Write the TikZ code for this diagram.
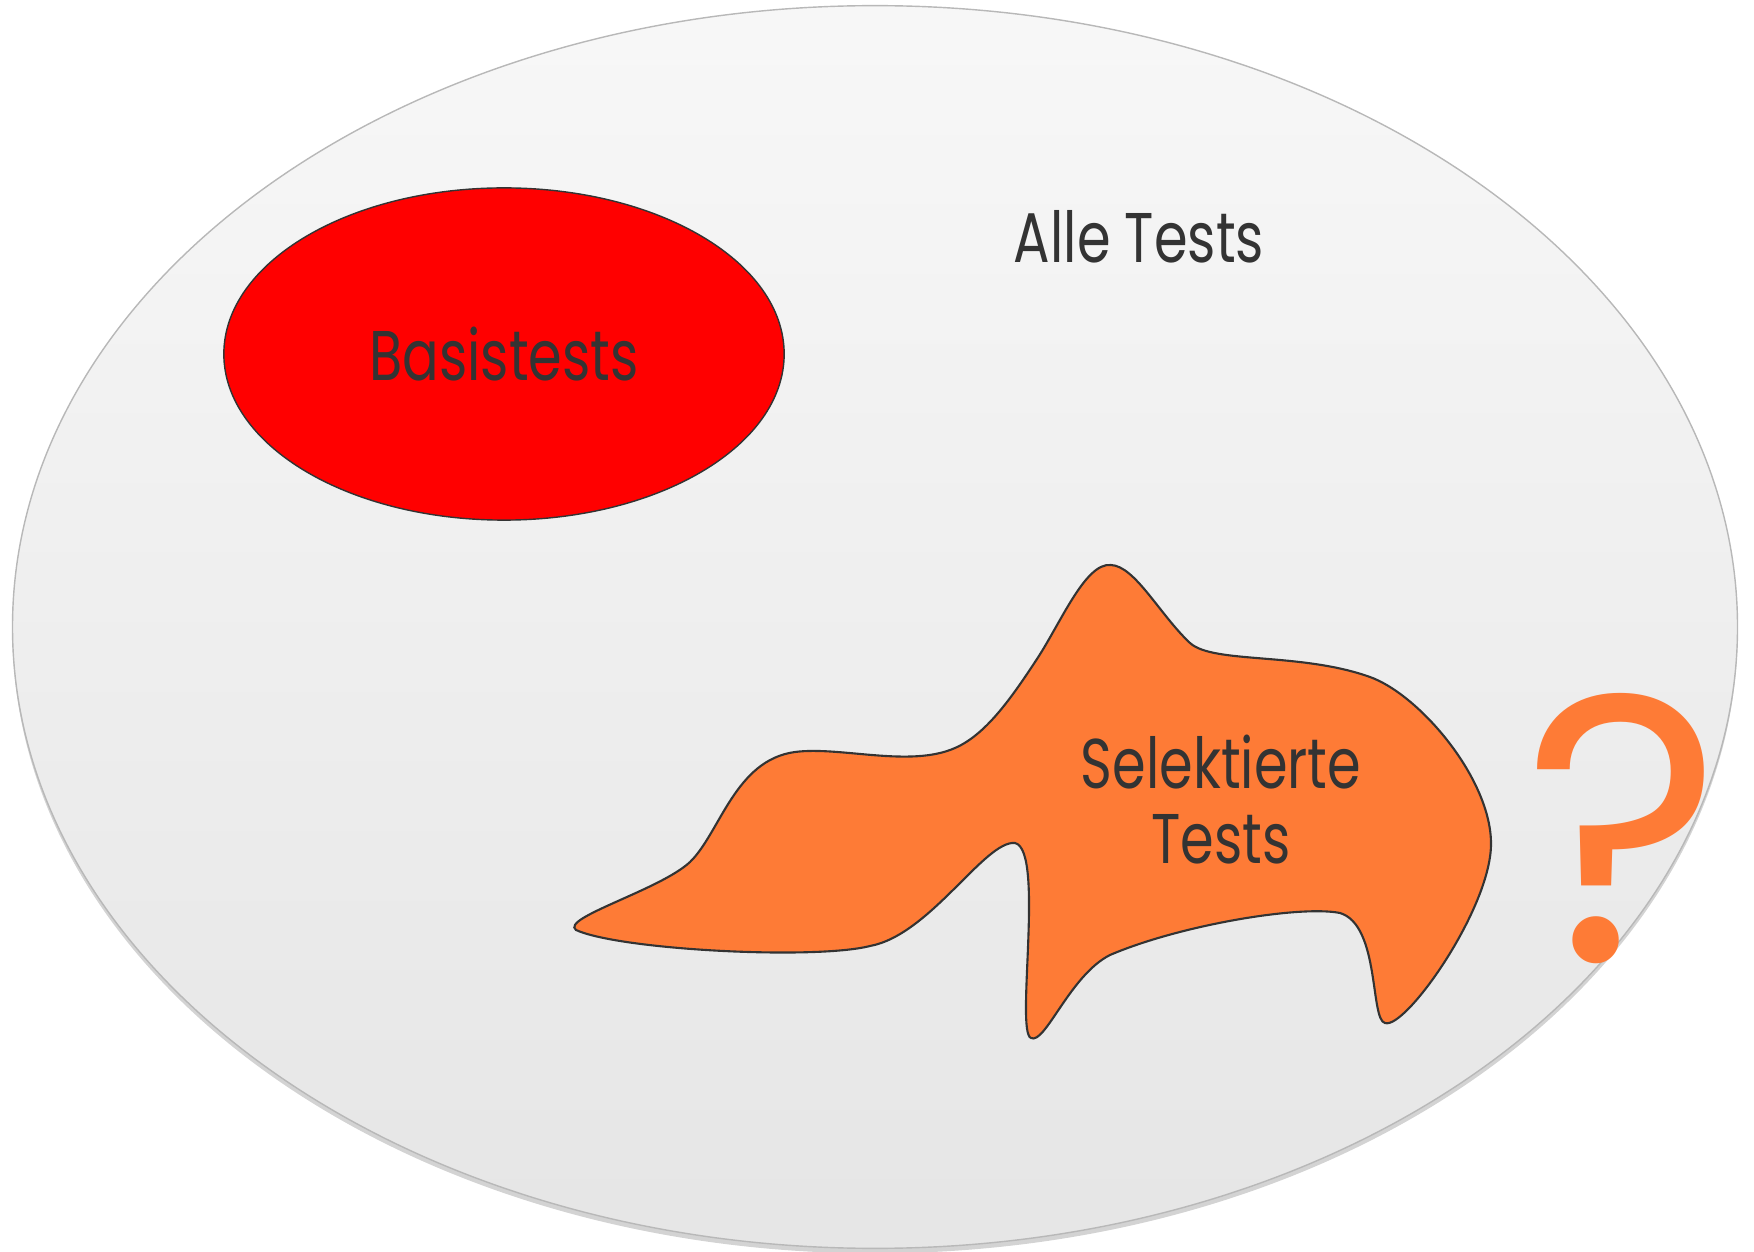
\documentclass[tikz,border=0pt]{standalone}
\usepackage{fontspec}
\setmainfont{Poppins}[FakeStretch=0.77]
\newfontfamily\fragefont{Poppins}
\usetikzlibrary{shapes.geometric,shadows}
\definecolor{textgrau}{HTML}{333333}
\definecolor{randgrau}{HTML}{B8B8B8}
\definecolor{selorange}{HTML}{FE7B36}
\begin{document}
\begin{tikzpicture}[
    x=0.01cm,
    y=-0.01cm,
    menge/.style ={
        ellipse,
        inner sep=0pt,
        text=textgrau,
        font=\fontsize{20}{24}\selectfont
    },
    label/.style ={
        text=textgrau,
        align=center,
        font=\fontsize{20}{21.3}\selectfont
    }
    ]
    \useasboundingbox (0,0) rectangle (1754,1252);
    % alle Tests
    \node[menge, draw=randgrau, top color=black!3, bottom color=black!10,
          drop shadow={shadow xshift=0pt, shadow yshift=-0.05cm, opacity=0.35},
          minimum width=17.24cm, minimum height=12.42cm] (alle) at (875,627) {};
    \node[label] (alletxt) at (1139,237) {Alle Tests};
    % Basistests
    \node[menge, draw=textgrau, fill=red, minimum width=5.6cm, minimum height=3.32cm] (basis) at (504,354) {Basistests};
    % selektierte Tests
    \draw[textgrau, line width=0.6pt, fill=selorange]
        (1111,565) .. controls (1135,566) and (1160,615) .. (1190,643)
        .. controls (1213,664) and (1300,652) .. (1370,677)
        .. controls (1420,695) and (1492,780) .. (1491,845)
        .. controls (1490,910) and (1405,1030) .. (1385,1023)
        .. controls (1370,1020) and (1380,925) .. (1340,913)
        .. controls (1300,905) and (1180,925) .. (1110,955)
        .. controls (1070,975) and (1045,1045) .. (1031,1038)
        .. controls (1015,1032) and (1045,850) .. (1015,843)
        .. controls (985,840) and (930,935) .. (870,946)
        .. controls (815,960) and (620,950) .. (576,930)
        .. controls (560,918) and (660,890) .. (690,862)
        .. controls (720,833) and (735,760) .. (795,752)
        .. controls (840,746) and (910,768) .. (955,748)
        .. controls (985,735) and (1010,700) .. (1035,662)
        .. controls (1060,625) and (1085,562) .. (1111,565) -- cycle;
    \node[label] (seltxt) at (1221,800) {Selektierte\\Tests};
    \node[text=selorange, font=\fragefont\fontsize{108}{110}\selectfont, inner sep=0pt] (frage) at (1623,829) {?};
\end{tikzpicture}
\end{document}
